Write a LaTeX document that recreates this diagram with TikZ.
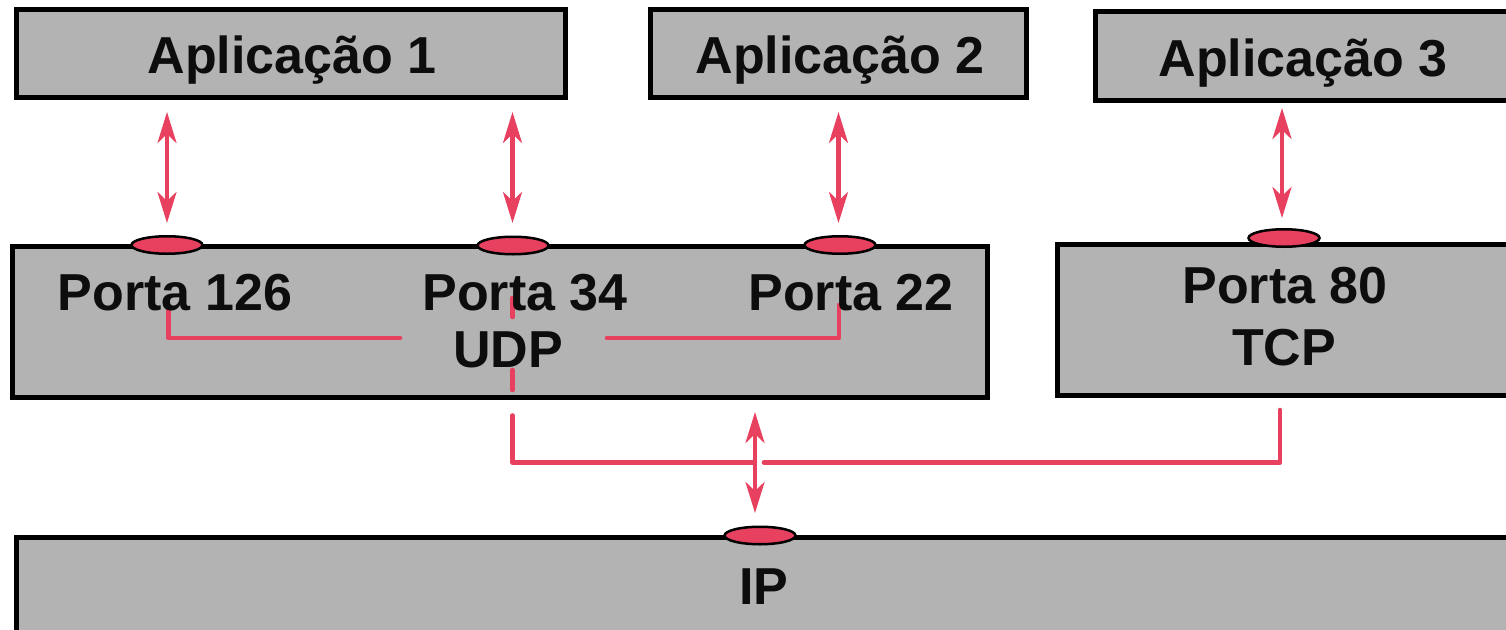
\documentclass[tikz,border=0pt]{standalone}
\usepackage{fontspec}
\setmainfont{Liberation Sans}
\usetikzlibrary{arrows.meta,shapes.geometric}
\definecolor{portred}{HTML}{E8405F}
\definecolor{boxgray}{HTML}{B3B3B3}
\tikzset{
  layerbox/.style={draw=black, fill=boxgray, line width=5pt, rectangle, inner sep=0pt},
  label/.style={anchor=base, inner sep=0pt, font=\fontsize{52}{60}\selectfont\bfseries, text=black!95},
  port/.style={draw=black, fill=portred, line width=2.5pt, ellipse, minimum width=71pt, minimum height=17.5pt, inner sep=0pt},
  link/.style={draw=portred, line width=4.6pt, line cap=round, line join=round},
  bidir/.style={draw=portred, line width=4.2pt,
    {Stealth[length=31pt,width=19pt,inset=9pt]}-{Stealth[length=31pt,width=19pt,inset=9pt]}}
}
\begin{document}
\begin{tikzpicture}[x=1pt, y=-1pt]
\clip (0,0) rectangle (1506,629);
\fill[white] (0,0) rectangle (1506,629);

% layer boxes
\node[layerbox, minimum width=548.7pt, minimum height=88.7pt] (app1) at (291.2,53.4) {};
\node[layerbox, minimum width=375.5pt, minimum height=88.7pt] (app2) at (838.3,53.4) {};
\node[layerbox, minimum width=424.5pt, minimum height=89pt] (app3) at (1307.8,55.5) {};
\node[layerbox, minimum width=975pt, minimum height=151pt] (udp) at (500,322) {};
\node[layerbox, minimum width=457.5pt, minimum height=151pt] (tcp) at (1286,319.5) {};
\node[layerbox, minimum width=1498.5pt, minimum height=110pt] (ip) at (766,592) {};

% internal wiring points
\coordinate (w126top) at (168.3,308);
\coordinate (w126bend) at (168.3,338);
\coordinate (w126end) at (400,338);
\coordinate (w22start) at (607,338);
\coordinate (w22bend) at (839,338);
\coordinate (w22top) at (839,305);
\coordinate (w34a) at (512.5,298);
\coordinate (w34b) at (512.5,317);
\coordinate (w34c) at (512.5,370);
\coordinate (w34d) at (512.5,390);
\coordinate (w34e) at (512.5,415.5);
\coordinate (w34bend) at (512.5,462.5);
\coordinate (wmidL) at (755,462.5);
\coordinate (wmidR) at (764,462.5);
\coordinate (w80bend) at (1280,462.5);
\coordinate (w80top) at (1280,410);

\path[link] (w126top) -- (w126bend) -- (w126end);
\path[link] (w22start) -- (w22bend) -- (w22top);
\path[link] (w34a) -- (w34b);
\path[link] (w34c) -- (w34d);
\path[link] (w34e) -- (w34bend) -- (wmidL);
\path[link] (wmidR) -- (w80bend) -- (w80top);

% labels
\node[label] (t1) at (292,73) {Aplicação 1};
\node[label] (t2) at (840,73) {Aplicação 2};
\node[label] (t3) at (1303,76) {Aplicação 3};
\node[label] (p126) at (175,310) {Porta 126};
\node[label] (p34) at (525,310) {Porta 34};
\node[label] (p22) at (851,310) {Porta 22};
\node[label] (tudp) at (508,367) {UDP};
\node[label] (p80) at (1285,303) {Porta 80};
\node[label] (ttcp) at (1284,365) {TCP};
\node[label] (tip) at (764,604) {IP};

% ports
\node[port] (o126) at (167,245) {};
\node[port] (o34) at (513,245.5) {};
\node[port] (o22) at (840,245) {};
\node[port] (o80) at (1284,238) {};
\node[port] (oip) at (760,535.5) {};

% arrow end points
\coordinate (a1t) at (167,112);
\coordinate (a1b) at (167,223);
\coordinate (a2t) at (512.5,112);
\coordinate (a2b) at (512.5,223);
\coordinate (a3t) at (838.5,112);
\coordinate (a3b) at (838.5,223);
\coordinate (a4t) at (1282,108);
\coordinate (a4b) at (1282,218);
\coordinate (a5t) at (755,412);
\coordinate (a5b) at (755,513);

\path[bidir] (a1t) -- (a1b);
\path[bidir] (a2t) -- (a2b);
\path[bidir] (a3t) -- (a3b);
\path[bidir] (a4t) -- (a4b);
\path[bidir] (a5t) -- (a5b);
\end{tikzpicture}
\end{document}
